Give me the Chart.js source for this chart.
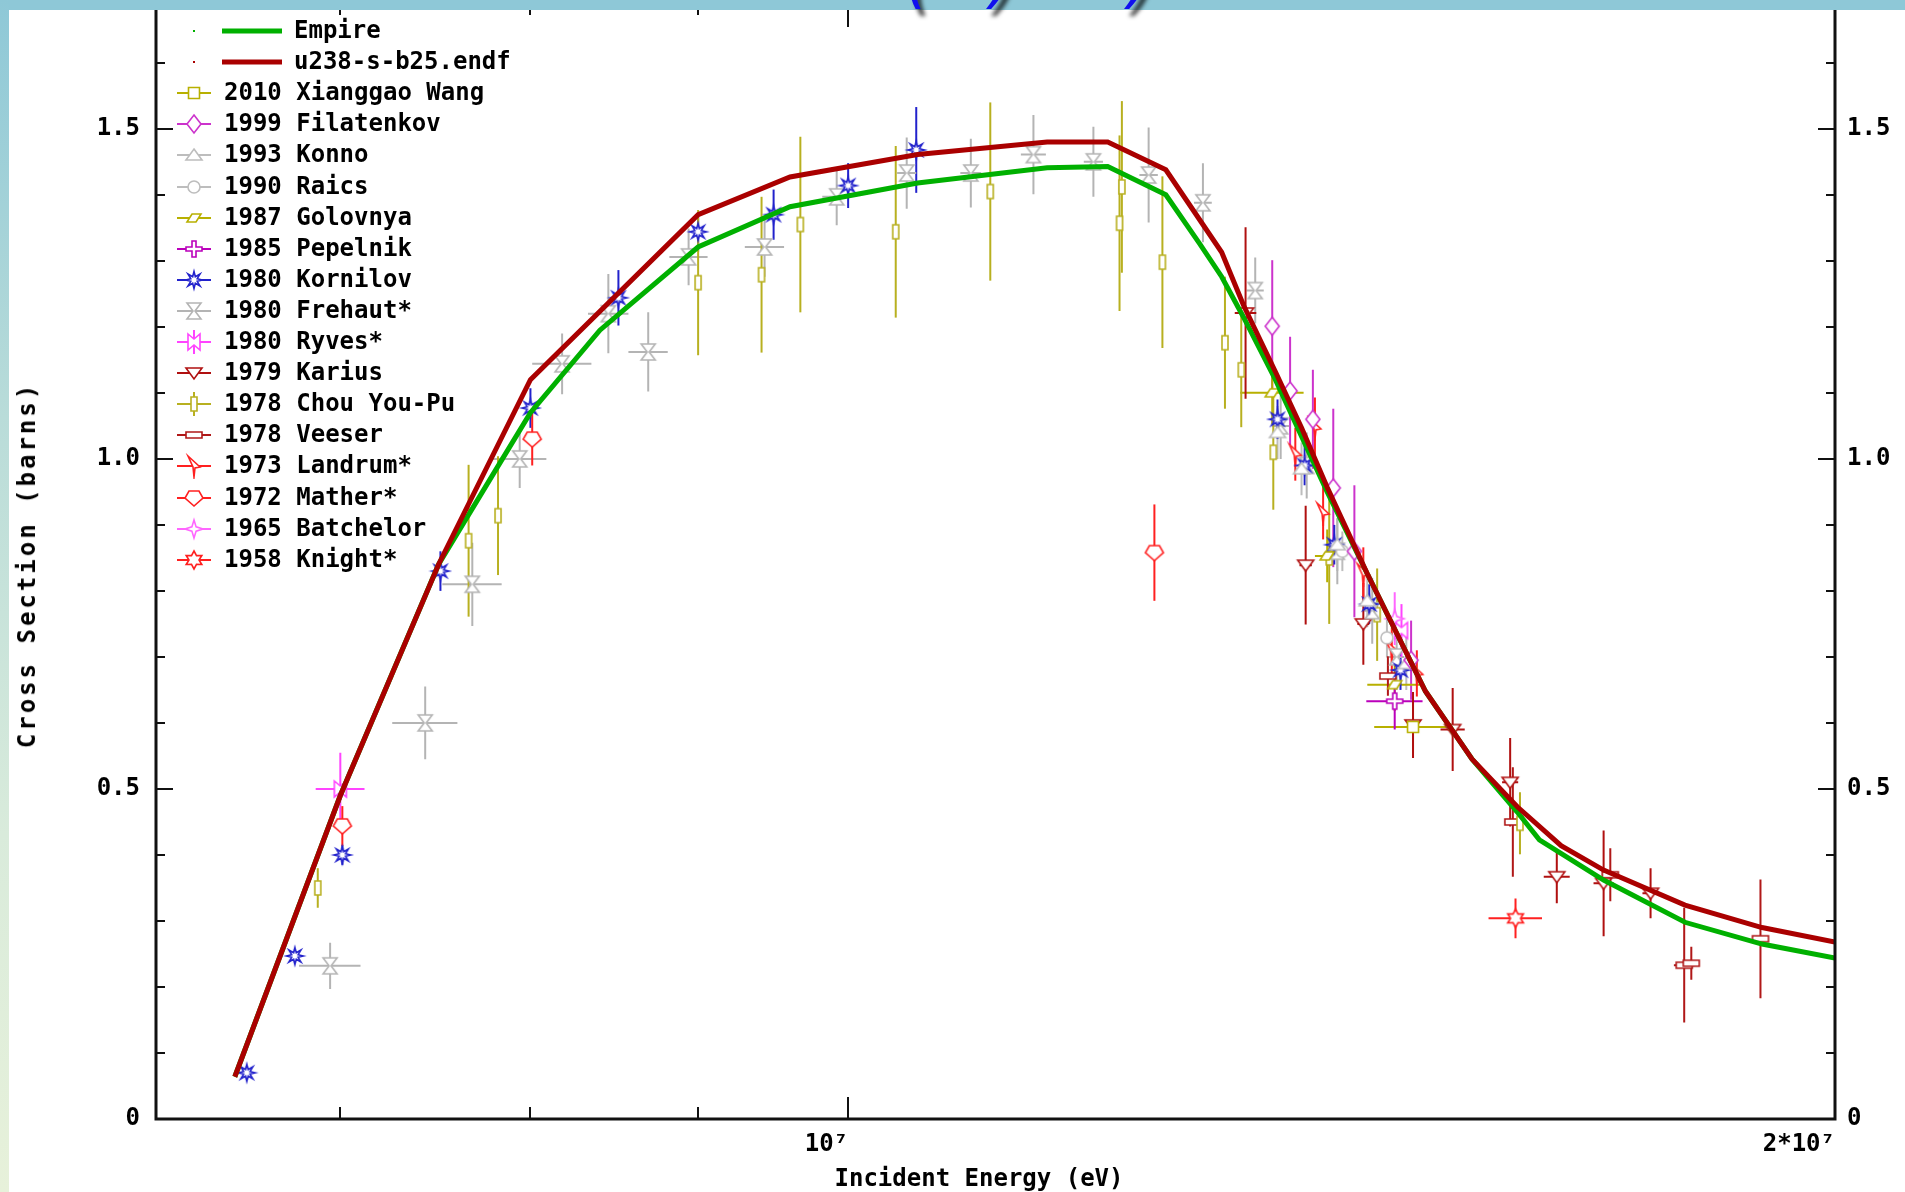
<!DOCTYPE html>
<html>
<head>
<meta charset="utf-8">
<title>U-238 (n,2n) cross section</title>
<script src="https://cdn.jsdelivr.net/npm/chart.js@4.4.1/dist/chart.umd.min.js"></script>
<style>
  html, body { margin: 0; padding: 0; background: #fff; }
  body { width: 1905px; height: 1192px; position: relative; overflow: hidden; }
  #band { position: absolute; left: 0; top: 0; width: 1905px; height: 10px; background: #8ec8d7; z-index: 3; }
  #strip { position: absolute; left: 0; top: 0; width: 9px; height: 1192px; z-index: 3;
           background: linear-gradient(#8ec8d7, #b9dcd9 35%, #d9ebdb 70%, #e7f1da); }
  #wrap { position: absolute; left: 0; top: 0; width: 1905px; height: 1192px; z-index: 1; }
  .axtitle { position: absolute; z-index: 2; color: #000; line-height: 24px;
             font: bold 24px "DejaVu Sans Mono", monospace; white-space: nowrap; }
  #ytitle { left: 27px; top: 565px; letter-spacing: 3px; transform: translate(-50%, -50%) rotate(-90deg); }
  #xtitle { left: 979px; top: 1178px; transform: translate(-50%, -50%); }
  .cut { position: absolute; top: -58px; z-index: 4; color: #1010ee; line-height: 64px;
         font: italic 64px "DejaVu Sans", sans-serif; text-shadow: 5px 7px 4px rgba(0,0,0,0.75); }
</style>
</head>
<body>
<div id="band"></div>
<div id="strip"></div>
<span class="cut" style="left:905px">(</span>
<span class="cut" style="left:990px">)</span>
<span class="cut" style="left:1128px">)</span>
<div id="wrap"><canvas id="xsChart" width="1905" height="1192"></canvas></div>
<div id="ytitle" class="axtitle">Cross Section (barns)</div>
<div id="xtitle" class="axtitle">Incident Energy (eV)</div>

<script>
// ---- evaluated curves: energy (MeV), cross section (barns)
const empireE  = [6.5, 7.0, 7.5, 7.8, 8.0, 8.4, 9.0, 9.6, 10.5, 11.5, 12.0, 12.5, 12.8, 13.0, 13.2, 13.5, 14.0, 14.4, 15.0, 15.5, 16.0, 16.25, 17.0, 18.0, 19.0, 20.0];
const empireXS = [0.064, 0.49, 0.84, 0.98, 1.07, 1.195, 1.321, 1.382, 1.418, 1.441, 1.443, 1.40, 1.326, 1.276, 1.215, 1.12, 0.95, 0.826, 0.648, 0.545, 0.465, 0.423, 0.362, 0.298, 0.265, 0.244];
const endfE  = [6.5, 7.0, 7.5, 8.0, 9.0, 9.6, 10.5, 11.5, 12.0, 12.5, 13.0, 13.2, 13.5, 13.75, 14.0, 14.4, 15.0, 15.5, 16.0, 16.5, 17.0, 18.0, 19.0, 20.0];
const endfXS = [0.064, 0.49, 0.84, 1.12, 1.37, 1.427, 1.461, 1.48, 1.48, 1.438, 1.313, 1.233, 1.132, 1.047, 0.957, 0.826, 0.648, 0.545, 0.473, 0.414, 0.377, 0.324, 0.29, 0.268];

// ---- measurements: [E (MeV), sigma (b), d sigma, d E]
const wang       = [[14.87, 0.594, 0.04, 0.40]];
const filatenkov = [[13.47, 1.201, 0.10, 0], [13.64, 1.103, 0.082, 0], [13.86, 1.06, 0.075, 0],
                    [14.06, 0.956, 0.12, 0], [14.27, 0.86, 0.10, 0], [14.85, 0.695, 0.06, 0]];
const konno      = [[13.52, 1.04, 0.04, 0.05], [13.75, 0.985, 0.04, 0.05], [14.1, 0.87, 0.04, 0.05],
                    [14.4, 0.785, 0.04, 0.05], [14.8, 0.69, 0.04, 0.05]];
const raics      = [[14.15, 0.86, 0.03, 0], [14.6, 0.729, 0.03, 0]];
const golovnya   = [[13.47, 1.10, 0.048, 0.30], [14.0, 0.853, 0.04, 0.12], [14.68, 0.658, 0.04, 0.28]];
const pepelnik   = [[14.68, 0.633, 0.043, 0.29]];
const kornilov   = [[6.555, 0.07, 0.01, 0], [6.78, 0.247, 0.01, 0], [7.01, 0.40, 0.015, 0], [7.51, 0.83, 0.03, 0],
                    [8.0, 1.077, 0.03, 0], [8.51, 1.244, 0.042, 0], [9.0, 1.344, 0.03, 0], [9.49, 1.37, 0.038, 0],
                    [10.0, 1.414, 0.034, 0], [10.49, 1.468, 0.065, 0], [13.52, 1.06, 0.03, 0], [13.78, 0.99, 0.03, 0],
                    [14.07, 0.87, 0.03, 0], [14.42, 0.78, 0.03, 0], [14.74, 0.68, 0.03, 0]];
const frehaut    = [[6.95, 0.232, 0.035, 0.15], [7.43, 0.60, 0.055, 0.17], [7.68, 0.81, 0.063, 0.16],
                    [7.94, 1.00, 0.044, 0.15], [8.18, 1.144, 0.046, 0.17], [8.45, 1.22, 0.06, 0.12],
                    [8.69, 1.162, 0.06, 0.12], [8.94, 1.306, 0.043, 0.12], [9.43, 1.321, 0.045, 0.13],
                    [9.92, 1.397, 0.043, 0.10], [10.42, 1.433, 0.054, 0.07], [10.9, 1.433, 0.052, 0.08],
                    [11.39, 1.461, 0.06, 0.10], [11.88, 1.45, 0.053, 0.08], [12.35, 1.43, 0.072, 0.08],
                    [12.83, 1.388, 0.06, 0.08], [13.31, 1.255, 0.05, 0.08], [13.55, 1.05, 0.05, 0.08],
                    [13.8, 0.99, 0.05, 0.08], [14.1, 0.86, 0.05, 0.08], [14.45, 0.77, 0.05, 0.08], [14.7, 0.70, 0.05, 0.08]];
const ryves      = [[7.0, 0.50, 0.055, 0.12], [14.75, 0.74, 0.04, 0]];
const karius     = [[13.22, 1.221, 0.13, 0.10], [13.79, 0.839, 0.09, 0.06], [14.36, 0.75, 0.062, 0.06],
                    [14.87, 0.597, 0.05, 0.06], [15.29, 0.59, 0.063, 0.13], [15.92, 0.51, 0.067, 0.09],
                    [16.45, 0.367, 0.04, 0.15], [17.0, 0.357, 0.08, 0.12], [17.57, 0.342, 0.038, 0.10]];
const chou       = [[6.89, 0.35, 0.03, 0], [7.66, 0.876, 0.115, 0], [7.82, 0.914, 0.09, 0], [9.0, 1.267, 0.11, 0],
                    [9.41, 1.279, 0.118, 0], [9.67, 1.355, 0.133, 0], [10.34, 1.344, 0.13, 0], [11.05, 1.405, 0.135, 0],
                    [12.12, 1.412, 0.13, 0], [12.1, 1.357, 0.133, 0], [12.47, 1.298, 0.13, 0], [13.03, 1.176, 0.10, 0],
                    [13.18, 1.135, 0.087, 0], [13.48, 1.01, 0.087, 0], [14.02, 0.85, 0.10, 0], [14.5, 0.764, 0.07, 0],
                    [16.03, 0.448, 0.047, 0]];
const veeser     = [[14.61, 0.671, 0.03, 0.08], [15.95, 0.45, 0.083, 0.09], [17.08, 0.37, 0.04, 0.10],
                    [17.99, 0.233, 0.087, 0.13], [18.08, 0.236, 0.025, 0.05], [18.98, 0.273, 0.09, 0.08]];
const landrum    = [[13.69, 1.007, 0.04, 0], [13.88, 1.047, 0.046, 0], [13.96, 0.918, 0.04, 0],
                    [14.36, 0.826, 0.04, 0], [14.65, 0.71, 0.035, 0], [14.91, 0.675, 0.035, 0]];
const mather     = [[7.01, 0.444, 0.03, 0], [8.01, 1.03, 0.04, 0], [12.4, 0.858, 0.073, 0]];
const batchelor  = [[14.68, 0.758, 0.04, 0]];
const knight     = [[15.98, 0.304, 0.03, 0.30]];

// ---- axes
const xMin = 6.15e6, xMax = 2e7;
const xTickValues = [1e7, 2e7];
const xTickLabels = ['10\u2077', '2*10\u2077'];
const xMinorTicks = [7e6, 8e6, 9e6];
const yMin = 0, yMax = 1.68;
const yTickValues = [0, 0.5, 1.0, 1.5];
const yTickLabels = ['0', '0.5', '1.0', '1.5'];
const yMinorTicks = [0.1, 0.2, 0.3, 0.4, 0.6, 0.7, 0.8, 0.9, 1.1, 1.2, 1.3, 1.4, 1.6];

const FONT = '"DejaVu Sans Mono", monospace';

// marker outlines (drawn around 0,0)
function poly(g, p) { g.moveTo(p[0][0], p[0][1]); p.slice(1).forEach(q => g.lineTo(q[0], q[1])); g.closePath(); }
function star(g, n, ro, ri) {
    for (let k = 0; k < 2 * n; k++) {
        const r = k % 2 ? ri : ro, a = -Math.PI / 2 + k * Math.PI / n;
        k ? g.lineTo(r * Math.cos(a), r * Math.sin(a)) : g.moveTo(r * Math.cos(a), r * Math.sin(a));
    }
    g.closePath();
}
const shapes = {
    square:    g => g.rect(-5.5, -5.5, 11, 11),
    diamond:   g => poly(g, [[0, -9], [7, 0], [0, 9], [-7, 0]]),
    triUp:     g => poly(g, [[0, -6], [8, 5], [-8, 5]]),
    circle:    g => g.arc(0, 0, 6, 0, Math.PI * 2),
    slant:     g => poly(g, [[-7, 4], [-2, -4], [7, -4], [2, 4]]),
    plus:      g => poly(g, [[-2, -8], [2, -8], [2, -2], [8, -2], [8, 2], [2, 2], [2, 8], [-2, 8], [-2, 2], [-8, 2], [-8, -2], [-2, -2]]),
    flake:     g => star(g, 8, 8.5, 3.5),
    hourglass: g => poly(g, [[-7, -8], [7, -8], [1, 0], [7, 8], [-7, 8], [-1, 0]]),
    bowtie:    g => poly(g, [[-6, -8], [0, -3], [6, -8], [6, 8], [0, 3], [-6, 8]]),
    triDown:   g => poly(g, [[-8, -5], [8, -5], [0, 6]]),
    tallRect:  g => g.rect(-3, -7, 6, 14),
    wideRect:  g => g.rect(-8, -3, 16, 6),
    kite:      g => poly(g, [[-6, -10], [6, 1], [1, 2], [0, 11], [-1, 1]]),
    shield:    g => poly(g, [[-5, -7], [5, -7], [9, 0], [0, 8], [-9, 0]]),
    star4:     g => star(g, 4, 9, 3),
    star6:     g => star(g, 6, 9, 5)
};

function makeIcon(shape, color, tails, vbar) {
    const c = document.createElement('canvas');
    c.width = tails ? 34 : 24;
    c.height = 26;
    const g = c.getContext('2d');
    g.translate(c.width / 2, c.height / 2);
    g.strokeStyle = color;
    g.lineWidth = 2;
    if (tails) {
        g.beginPath();
        g.moveTo(-c.width / 2, 0); g.lineTo(c.width / 2, 0);
        if (vbar) { g.moveTo(0, -12); g.lineTo(0, 12); }
        g.stroke();
    }
    g.lineWidth = 1.6;
    g.fillStyle = '#fff';
    g.beginPath();
    shapes[shape](g);
    g.fill();
    g.stroke();
    return c;
}

function curveSet(label, es, xs, color, order) {
    return {
        label: label,
        data: es.map((e, i) => ({ x: e * 1e6, y: xs[i] })),
        showLine: true, borderColor: color, backgroundColor: color,
        borderWidth: 5, pointRadius: 0, tension: 0, order: order
    };
}

function expSet(label, rows, shape, color, vbar) {
    return {
        label: label,
        rows: rows,
        color: color,
        data: rows.map(r => ({ x: r[0] * 1e6, y: r[1] })),
        showLine: false,
        pointStyle: makeIcon(shape, color, false),
        legendIcon: makeIcon(shape, color, true, vbar),
        pointRadius: 6,
        order: 5
    };
}

// error bars under the markers, through the chart's own scales
const errorBars = {
    id: 'errorBars',
    beforeDatasetsDraw(chart) {
        const { ctx, chartArea: a, scales: { x, y } } = chart;
        ctx.save();
        ctx.beginPath();
        ctx.rect(a.left, a.top, a.right - a.left, a.bottom - a.top);
        ctx.clip();
        ctx.lineWidth = 2;
        chart.data.datasets.forEach(ds => {
            if (!ds.rows) return;
            ctx.strokeStyle = ds.color;
            ds.rows.forEach(([e, s, ds_, de]) => {
                const px = x.getPixelForValue(e * 1e6), py = y.getPixelForValue(s);
                ctx.beginPath();
                if (ds_) { ctx.moveTo(px, y.getPixelForValue(s - ds_)); ctx.lineTo(px, y.getPixelForValue(s + ds_)); }
                if (de) { ctx.moveTo(x.getPixelForValue((e - de) * 1e6), py); ctx.lineTo(x.getPixelForValue((e + de) * 1e6), py); }
                ctx.stroke();
            });
        });
        ctx.restore();
    }
};

// box frame with inward tick marks
const frame = {
    id: 'frame',
    afterDatasetsDraw(chart) {
        const { ctx, chartArea: a, scales: { x, y } } = chart;
        ctx.save();
        ctx.strokeStyle = '#111';
        ctx.lineWidth = 3;
        ctx.beginPath();
        ctx.moveTo(a.left, a.top - 10); ctx.lineTo(a.left, a.bottom);
        ctx.lineTo(a.right, a.bottom); ctx.lineTo(a.right, a.top - 10);
        ctx.stroke();
        ctx.lineWidth = 2;
        ctx.beginPath();
        const yTick = (v, len) => {
            const py = Math.round(y.getPixelForValue(v));
            ctx.moveTo(a.left, py); ctx.lineTo(a.left + len, py);
            ctx.moveTo(a.right, py); ctx.lineTo(a.right - len, py);
        };
        const xTick = (v, lenBottom, lenTop) => {
            const px = Math.round(x.getPixelForValue(v));
            ctx.moveTo(px, a.bottom); ctx.lineTo(px, a.bottom - lenBottom);
            ctx.moveTo(px, a.top); ctx.lineTo(px, a.top + lenTop);
        };
        yTickValues.forEach(v => yTick(v, 17));
        yMinorTicks.forEach(v => yTick(v, 9));
        xTickValues.forEach(v => xTick(v, 22, 17));
        xMinorTicks.forEach(v => xTick(v, 12, 5));
        ctx.stroke();
        ctx.restore();
    }
};

// legend block in the upper-left of the plot
const legendBlock = {
    id: 'legendBlock',
    afterDraw(chart) {
        const ctx = chart.ctx;
        const top = 31, step = 31.1, markX = 194, textX = 224;
        ctx.save();
        ctx.font = 'bold 24px ' + FONT;
        ctx.textBaseline = 'middle';
        chart.data.datasets.forEach((ds, i) => {
            const yRow = Math.round(top + i * step);
            if (ds.rows) {
                const ic = ds.legendIcon;
                ctx.drawImage(ic, markX - ic.width / 2, yRow - ic.height / 2);
                ctx.fillStyle = '#000';
                ctx.fillText(ds.label, textX, yRow + 1);
            } else {
                ctx.fillStyle = ds.borderColor;
                ctx.fillRect(markX - 1, yRow - 1, 2, 2);
                ctx.strokeStyle = ds.borderColor;
                ctx.lineWidth = 5;
                ctx.beginPath();
                ctx.moveTo(textX - 2, yRow); ctx.lineTo(textX + 58, yRow);
                ctx.stroke();
                ctx.fillStyle = '#000';
                ctx.fillText(ds.label, textX + 70, yRow + 1);
            }
        });
        ctx.restore();
    }
};

Chart.defaults.font.family = FONT;
Chart.defaults.font.size = 24;
Chart.defaults.font.weight = 'bold';
Chart.defaults.color = '#000';

const tickFont = { family: FONT, size: 24, weight: 'bold' };

// fixed axis boxes so the plot frame lands where the original has it
function fixWidth(w) {
    return s => { s.width = w; s.paddingTop = 0; s.paddingBottom = 0; };
}

new Chart(document.getElementById('xsChart'), {
    type: 'scatter',
    data: {
        datasets: [
            curveSet('Empire', empireE, empireXS, '#00b000', 2),
            curveSet('u238-s-b25.endf', endfE, endfXS, '#aa0000', 1),
            expSet('2010 Xianggao Wang', wang, 'square', '#b8b000'),
            expSet('1999 Filatenkov', filatenkov, 'diamond', '#cc33cc'),
            expSet('1993 Konno', konno, 'triUp', '#bdbdbd'),
            expSet('1990 Raics', raics, 'circle', '#bdbdbd'),
            expSet('1987 Golovnya', golovnya, 'slant', '#b8b000'),
            expSet('1985 Pepelnik', pepelnik, 'plus', '#bb00bb'),
            expSet('1980 Kornilov', kornilov, 'flake', '#2222cc'),
            expSet('1980 Frehaut*', frehaut, 'hourglass', '#b4b4b4'),
            expSet('1980 Ryves*', ryves, 'bowtie', '#ff44ff', true),
            expSet('1979 Karius', karius, 'triDown', '#b01010'),
            expSet('1978 Chou You-Pu', chou, 'tallRect', '#b8b020', true),
            expSet('1978 Veeser', veeser, 'wideRect', '#b01818'),
            expSet('1973 Landrum*', landrum, 'kite', '#ff2020'),
            expSet('1972 Mather*', mather, 'shield', '#ff2020'),
            expSet('1965 Batchelor', batchelor, 'star4', '#ff66ff'),
            expSet('1958 Knight*', knight, 'star6', '#ff2020')
        ]
    },
    options: {
        responsive: false,
        animation: false,
        devicePixelRatio: 1,
        events: [],
        layout: { padding: { top: 10, left: 0, right: 0, bottom: 0 } },
        plugins: { legend: { display: false }, tooltip: { enabled: false } },
        scales: {
            x: {
                type: 'logarithmic', position: 'bottom', min: xMin, max: xMax, bounds: 'data',
                afterBuildTicks: s => { s.ticks = xTickValues.map(v => ({ value: v })); },
                afterFit: s => { s.height = 73; s.paddingLeft = 0; s.paddingRight = 0; },
                grid: { display: false, drawTicks: false },
                border: { display: false },
                ticks: {
                    autoSkip: false, maxRotation: 0, align: 'end', padding: 11, color: '#000', font: tickFont,
                    callback: v => xTickLabels[xTickValues.indexOf(v)]
                }
            },
            y: {
                type: 'linear', position: 'left', min: yMin, max: yMax,
                afterBuildTicks: s => { s.ticks = yTickValues.map(v => ({ value: v })); },
                afterFit: fixWidth(156),
                grid: { display: false, drawTicks: false },
                border: { display: false },
                ticks: { padding: 16, color: '#000', font: tickFont, callback: v => yTickLabels[yTickValues.indexOf(v)] }
            },
            y2: {
                type: 'linear', position: 'right', min: yMin, max: yMax,
                afterBuildTicks: s => { s.ticks = yTickValues.map(v => ({ value: v })); },
                afterFit: fixWidth(70),
                grid: { display: false, drawTicks: false },
                border: { display: false },
                ticks: { padding: 12, color: '#000', font: tickFont, callback: v => yTickLabels[yTickValues.indexOf(v)] }
            }
        }
    },
    plugins: [errorBars, frame, legendBlock]
});
</script>
</body>
</html>
